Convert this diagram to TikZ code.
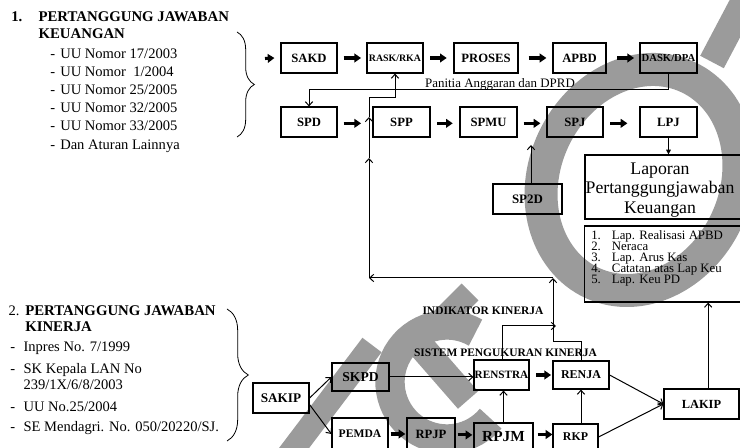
\documentclass[tikz,border=0pt]{standalone}
\usepackage{fontspec}
\setmainfont{Liberation Serif}
\usetikzlibrary{arrows.meta,decorations.pathreplacing,calc}
\definecolor{wm}{RGB}{155,155,155}
\begin{document}
\begin{tikzpicture}[x=0.75pt,y=-0.75pt,
  box/.style={draw, line width=0.9pt, inner sep=0pt, font=\bfseries\fontsize{9.5}{11}\selectfont},
  tarr/.style={line width=2.3pt, -{Triangle[length=5pt,width=6.5pt]}},
  oarr/.style={line width=0.75pt, -{Straight Barb[length=3pt,width=5.5pt]}},
  farr/.style={line width=0.75pt, -{Triangle[length=3.5pt,width=3.5pt]}},
  txt/.style={inner sep=0pt, anchor=base west, font=\fontsize{10.9}{13}\selectfont},
  btxt/.style={inner sep=0pt, anchor=base west, font=\bfseries\fontsize{11.1}{13}\selectfont},
  itm/.style={inner sep=0pt, anchor=base west, font=\fontsize{9.6}{10}\selectfont},
  lbl/.style={inner sep=0pt, anchor=base, font=\bfseries\fontsize{8.6}{10}\selectfont},
  brc/.style={line width=0.6pt, decorate},
  wmark/.style={draw=wm}
]
\useasboundingbox (0,0) rectangle (740,448);

% ---------- watermark ----------
\begin{scope}[shift={(640,180)}, rotate=-25]
  \draw[wmark, line width=24.75pt] (0,0) ellipse [x radius=95.5, y radius=113.5];
\end{scope}
\draw[wmark, line width=20pt] (750,-10) -- (712,62);
\draw[wmark, line width=22pt] (447,382) ++(-60:57) arc[start angle=-60, end angle=-320, radius=57];
\draw[wmark, line width=18pt] (440,322) -- (470,292);
\draw[wmark, line width=20pt] (420,345) -- (468,400);
\draw[wmark, line width=18pt] (285,460) -- (372,345);

% ---------- left texts ----------
\node[btxt] (n1) at (11,21.7) {1.};
\node[btxt] (t1a) at (38.3,21.7) {PERTANGGUNG JAWABAN};
\node[btxt] (t1b) at (38.3,38.3) {KEUANGAN};
\node[txt] (d1) at (50,58.3) {-};  \node[txt] (u1) at (60,58.3) {UU Nomor 17/2003};
\node[txt] (d2) at (50,76.7) {-};  \node[txt] (u2) at (60,76.7) {UU Nomor\ \ 1/2004};
\node[txt] (d3) at (50,94.3) {-};  \node[txt] (u3) at (60,94.3) {UU Nomor 25/2005};
\node[txt] (d4) at (50,112.3) {-}; \node[txt] (u4) at (60,112.3) {UU Nomor 32/2005};
\node[txt] (d5) at (50,131) {-};   \node[txt] (u5) at (60,131) {UU Nomor 33/2005};
\node[txt] (d6) at (50,150) {-};   \node[txt] (u6) at (60,150) {Dan Aturan Lainnya};

\node[txt] (n2) at (8.3,316) {2.};
\node[btxt] (t2a) at (25,316) {PERTANGGUNG JAWABAN};
\node[btxt] (t2b) at (25,331.7) {KINERJA};
\node[txt] (e1) at (10,351.7) {-}; \node[txt] (v1) at (23.3,351.7) {Inpres No. 7/1999};
\node[txt] (e2) at (10,373.3) {-}; \node[txt] (v2) at (23.3,373.3) {SK Kepala LAN No};
\node[txt] (v2b) at (23.3,390) {239/1X/6/8/2003};
\node[txt] (e3) at (10,411.7) {-}; \node[txt] (v3) at (23.3,411.7) {UU No.25/2004};
\node[txt] (e4) at (10,431.7) {-}; \node[txt] (v4) at (23.3,431.7) {SE Mendagri. No. 050/20220/SJ.};

% braces
\draw[brc, decoration={brace, amplitude=13pt}] (237,32) -- (237,137);
\draw[brc, decoration={brace, amplitude=16pt}] (227,309) -- (227,441);

% ---------- row 1 ----------
\node[box, minimum width=42pt, minimum height=22.5pt] (sakd) at (309,58) {SAKD};
\node[box, minimum width=42pt, minimum height=22.5pt, font=\bfseries\fontsize{7.4}{9}\selectfont] (rask) at (395,58) {RASK/RKA};
\node[box, minimum width=48pt, minimum height=22.5pt] (proses) at (486,58) {PROSES};
\node[box, minimum width=39.75pt, minimum height=22.5pt] (apbd) at (579.5,58) {APBD};
\node[box, minimum width=42.75pt, minimum height=22.5pt, font=\bfseries\fontsize{8}{9}\selectfont] (dask) at (668.5,58) {DASK/DPA};

\coordinate (in1) at (265,58.5);
\draw[tarr] (in1) -- ([xshift=-4.5pt]sakd.west);
\draw[tarr] ([xshift=4.5pt]sakd.east) -- ([xshift=-4pt]rask.west);
\draw[tarr] ([xshift=5pt]rask.east) -- ([xshift=-5pt]proses.west);
\draw[tarr] ([xshift=7.5pt]proses.east) -- ([xshift=-4.5pt]apbd.west);
\draw[tarr] ([xshift=8pt]apbd.east) -- ([xshift=-4pt]dask.west);

% ---------- row 2 ----------
\node[box, minimum width=42pt, minimum height=22.5pt] (spd) at (309,122) {SPD};
\node[box, minimum width=42.75pt, minimum height=22.5pt] (spp) at (401.5,122) {SPP};
\node[box, minimum width=42.75pt, minimum height=22.5pt] (spmu) at (488.5,122) {SPMU};
\node[box, minimum width=42pt, minimum height=22.5pt] (spj) at (575,122) {SPJ};
\node[box, minimum width=42.75pt, minimum height=22.5pt] (lpj) at (668.5,122) {LPJ};

\draw[tarr] ([xshift=4.5pt,yshift=-1pt]spd.east) -- ([xshift=-8.5pt,yshift=-1pt]spp.west);
\draw[tarr] ([xshift=5pt,yshift=-1pt]spp.east) -- ([xshift=-5pt,yshift=-1pt]spmu.west);
\draw[tarr] ([xshift=4.5pt,yshift=-1pt]spmu.east) -- ([xshift=-4.5pt,yshift=-1pt]spj.west);
\draw[tarr] ([xshift=5pt,yshift=-1pt]spj.east) -- ([xshift=-9pt,yshift=-1pt]lpj.west);

% Panitia connector
\coordinate (pan) at (309,90);
\draw[oarr] (dask.south) |- (pan) -- (spd.north);
\node[inner sep=0pt, anchor=base, font=\fontsize{9.7}{11}\selectfont] (panlbl) at (500,88) {Panitia Anggaran dan DPRD};

% SP2D
\node[box, minimum width=51.75pt, minimum height=22.5pt, font=\bfseries\fontsize{9.7}{11}\selectfont] (sp2d) at (527.5,199) {SP2D};
\coordinate (sp2dto) at (531,145);
\draw[oarr] (sp2d.north -| sp2dto) -- (sp2dto);

% Laporan box
\node[draw, line width=0.9pt, minimum width=117pt, minimum height=48pt, inner sep=0pt] (lap) at (663,187) {};
\node[inner sep=0pt, align=center, font=\fontsize{13.3}{14.5}\selectfont] (laptxt) at (660,190) {Laporan\\Pertanggungjawaban\\Keuangan};
\draw[farr] (lpj.south) -- (lpj.south |- lap.north);

% list box
\node[draw, line width=0.9pt, minimum width=117.4pt, minimum height=57pt, inner sep=0pt] (list) at (662.75,264) {};
\node[itm] (l1n) at (591,239.5) {1.}; \node[itm] (l1) at (611.7,239.5) {Lap. Realisasi APBD};
\node[itm] (l2n) at (591,250.4) {2.}; \node[itm] (l2) at (611.7,250.4) {Neraca};
\node[itm] (l3n) at (591,261.3) {3.}; \node[itm] (l3) at (611.7,261.3) {Lap. Arus Kas};
\node[itm] (l4n) at (591,272.2) {4.}; \node[itm] (l4) at (611.7,272.2) {Catatan atas Lap Keu};
\node[itm] (l5n) at (591,283.1) {5.}; \node[itm] (l5) at (611.7,283.1) {Lap. Keu PD};

% feedback line to RASK/RKA
\coordinate (fb1) at (369,278);
\coordinate (m1) at (369,158);
\coordinate (m2) at (369,117);
\coordinate (fb2) at (369,98);
\draw[oarr] (fb1) -- (m1);
\draw[oarr] (m1) -- (m2);
\draw[oarr] (m2) -- (fb2) -| (rask.south);

% ---------- lower part ----------
\node[box, minimum width=42pt, minimum height=22.5pt, font=\bfseries\fontsize{9.9}{11}\selectfont] (sakip) at (281,398) {SAKIP};
\node[box, minimum width=42.75pt, minimum height=21pt, font=\bfseries\fontsize{10.2}{11}\selectfont] (skpd) at (360.5,377) {SKPD};
\node[box, minimum width=42pt, minimum height=24pt, font=\bfseries\fontsize{8.7}{11}\selectfont] (pemda) at (360,434) {PEMDA};
\node[box, minimum width=36pt, minimum height=24pt] (rpjp) at (431,434) {RPJP};
\node[box, minimum width=44.25pt, minimum height=20.25pt, font=\bfseries\fontsize{11.5}{13}\selectfont] (rpjm) at (503.5,436.5) {RPJM};
\node[box, minimum width=33.75pt, minimum height=19.5pt, font=\bfseries\fontsize{8.9}{11}\selectfont] (rkp) at (575.5,437) {RKP};
\node[box, minimum width=41.25pt, minimum height=22.5pt, font=\bfseries\fontsize{8.4}{10}\selectfont] (renstra) at (501.5,375) {RENSTRA};
\node[box, minimum width=42pt, minimum height=21pt, font=\bfseries\fontsize{9}{11}\selectfont] (renja) at (581,375) {RENJA};
\node[box, minimum width=56.25pt, minimum height=22.5pt, font=\bfseries\fontsize{9.3}{11}\selectfont] (lakip) at (701.5,404) {LAKIP};

\draw[oarr] (sakip.east) -- (skpd.west);
\draw[oarr] ([yshift=-5pt]sakip.east) -- (pemda.west);
\draw[oarr] (skpd.east) -- (skpd.east -| renstra.west);
\draw[tarr] ([xshift=5pt]renstra.east) -- ([xshift=-1pt]renja.west);
\draw[tarr] ([xshift=1.5pt]pemda.east) -- ([xshift=-0.8pt]rpjp.west);
\draw[tarr] ([xshift=1.5pt,yshift=-0.7pt]rpjp.east) -- ([xshift=-0.8pt,yshift=-0.7pt]rpjp.east -| rpjm.west);
\draw[tarr] ([xshift=3pt,yshift=1.5pt]rpjm.east) -- ([yshift=1.5pt]rpjm.east -| rkp.west);
\draw[oarr] (rpjm.north) -- (rpjm.north |- renstra.south);
\draw[oarr] (renja.south |- rkp.north) -- (renja.south);
\draw[oarr] (renja.east) -- (lakip.west);
\draw[oarr] (rkp.east) -- (lakip.west);
\draw[oarr] ([xshift=5pt]lakip.north) -- ([xshift=5pt]lakip.north |- list.south);

\coordinate (ik) at (556,326);
\draw[oarr] ([xshift=0.6pt]renstra.north) |- (ik);
\coordinate (j1) at (553,342);
\coordinate (j2) at (553,278);
\draw[oarr] (renja.north) |- (j1) -- (j2);
\draw[oarr] (j2) -- (fb1);

\node[lbl] (indik) at (483,315) {INDIKATOR KINERJA};
\node[lbl] (sistem) at (505.5,356.5) {SISTEM PENGUKURAN KINERJA};
\end{tikzpicture}
\end{document}
